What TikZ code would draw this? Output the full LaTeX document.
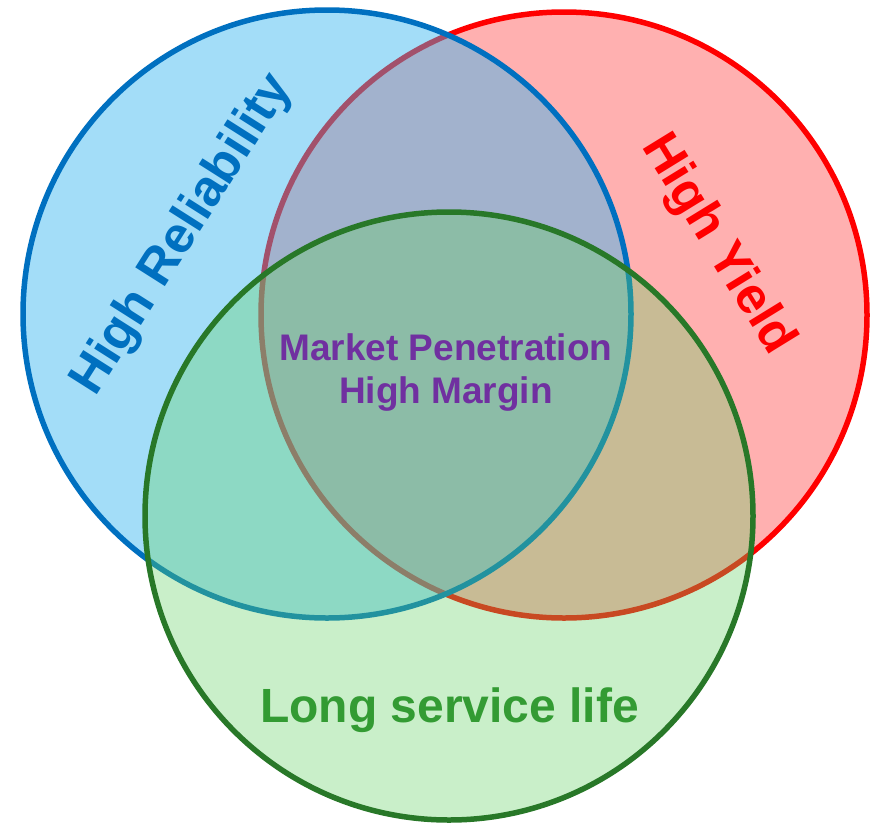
\documentclass[tikz,border=0pt]{standalone}
\usepackage{fontspec}
\setmainfont{Liberation Sans}
\definecolor{relblue}{RGB}{0,112,192}
\definecolor{relfill}{RGB}{50,180,240}
\definecolor{yieldred}{RGB}{255,0,0}
\definecolor{yieldfill}{RGB}{255,80,80}
\definecolor{lifegreen}{RGB}{40,120,40}
\definecolor{lifefill}{RGB}{100,210,100}
\definecolor{lifetext}{RGB}{51,155,51}
\definecolor{coretext}{RGB}{112,48,160}
\begin{document}
\begin{tikzpicture}[x=1pt,y=-1pt,
  setcircle/.style={line width=5.5pt, fill opacity=0.45, draw opacity=1},
  label/.style={font=\bfseries, inner sep=0pt, anchor=base}]
\useasboundingbox (0,0) rectangle (878,825);
% the three sets, back to front
\draw[setcircle, draw=yieldred, fill=yieldfill] (564,315) circle (303);
\draw[setcircle, draw=relblue, fill=relfill] (327,314) circle (304);
\draw[setcircle, fill opacity=0.35, draw=lifegreen, fill=lifefill] (449,516) circle (304);
% labels
\node[label, text=relblue, font=\fontsize{51}{60}\bfseries, rotate=57.6] (rel) at (194,242) {High Reliability};
\node[label, text=yieldred, font=\fontsize{51}{60}\bfseries, rotate=-58.4] (yield) at (706,252) {High Yield};
\node[label, text=lifetext, font=\fontsize{48}{56}\bfseries] (life) at (449.5,722) {Long service life};
\node[label, text=coretext, font=\fontsize{37}{44}\bfseries] (core1) at (446,360) {Market Penetration};
\node[label, text=coretext, font=\fontsize{37}{44}\bfseries] (core2) at (446,403) {High Margin};
\end{tikzpicture}
\end{document}
